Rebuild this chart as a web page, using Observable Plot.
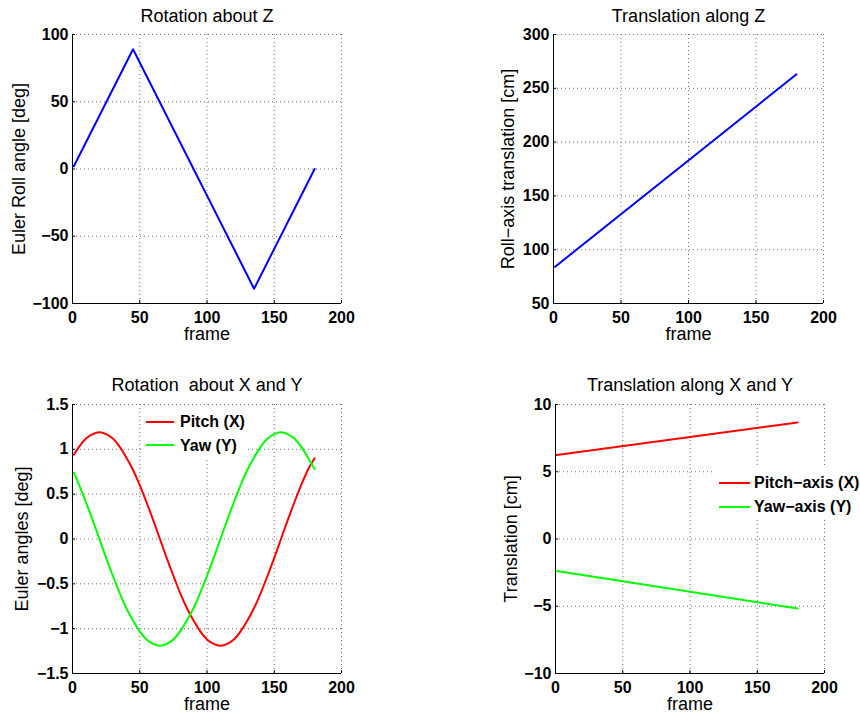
<!DOCTYPE html>
<html>
<head>
<meta charset="utf-8">
<script src="https://cdn.jsdelivr.net/npm/d3@7"></script>
<script src="https://cdn.jsdelivr.net/npm/@observablehq/plot@0.6"></script>
<style>
  html, body { margin: 0; padding: 0; background: #fff; }
  #fig { position: relative; width: 860px; height: 716px; overflow: hidden;
         font-family: "Liberation Sans", Arial, sans-serif; color: #000; }
  #fig > svg { position: absolute; }
  .legend { position: absolute; background: #fff; }
  .legend .sw { position: absolute; height: 2px; }
  .legend .lb { position: absolute; font-weight: bold; font-size: 16px; line-height: 1; white-space: nowrap; }
</style>
</head>
<body>
<div id="fig"></div>
<script>
// Shared frame axis
const frameTicks = [0, 50, 100, 150, 200];

// Rotation about Z (roll)
const rollFrame = [1, 45, 135, 180];
const rollDeg = [2, 89, -89, 0];
const rollTicks = [-100, -50, 0, 50, 100];

// Translation along Z (roll axis)
const zFrame = [1, 180];
const zCm = [84, 263];
const zTicks = [50, 100, 150, 200, 250, 300];

// Rotation about X and Y
const angFrame = [1, 5, 10, 15, 20, 25, 30, 35, 40, 45, 50, 55, 60, 65, 70, 75, 80, 85, 90,
  95, 100, 105, 110, 115, 120, 125, 130, 135, 140, 145, 150, 155, 160, 165, 170, 175, 180];
const pitchDeg = [0.94, 1.03, 1.12, 1.17, 1.19, 1.17, 1.12, 1.03, 0.91, 0.77, 0.60, 0.41, 0.21, 0, -0.21,
  -0.41, -0.60, -0.77, -0.91, -1.03, -1.12, -1.17, -1.19, -1.17, -1.12, -1.03, -0.91, -0.77, -0.60,
  -0.41, -0.21, 0, 0.21, 0.41, 0.60, 0.77, 0.90];
const yawDeg = [0.74, 0.60, 0.41, 0.21, 0, -0.21, -0.41, -0.60, -0.77, -0.91, -1.03, -1.12, -1.17, -1.19,
  -1.17, -1.12, -1.03, -0.91, -0.77, -0.60, -0.41, -0.21, 0, 0.21, 0.41, 0.60, 0.77, 0.91, 1.03, 1.12,
  1.17, 1.19, 1.17, 1.12, 1.03, 0.91, 0.78];
const angTicks = [-1.5, -1, -0.5, 0, 0.5, 1, 1.5];
const angLegend = ["Pitch (X)", "Yaw (Y)"];

// Translation along X and Y
const xyFrame = [1, 180];
const pitchCm = [6.24, 8.66];
const yawCm = [-2.38, -5.17];
const xyTicks = [-10, -5, 0, 5, 10];
const xyLegend = ["Pitch\u2212axis (X)", "Yaw\u2212axis (Y)"];

const fig = document.getElementById("fig");
const fmt = d3.format("");
const blank = () => "";

function panel(o) {
  const W = 430, H = 358;
  const gridStyle = {stroke: "#707070", strokeOpacity: 1, strokeDasharray: "1,3"};
  const marks = [
    Plot.gridX({ticks: frameTicks, ...gridStyle}),
    Plot.gridY({ticks: o.yTicks, ...gridStyle}),
    Plot.ruleX([frameTicks[0]], {stroke: "#000", strokeWidth: 1}),
    Plot.ruleY([o.yTicks[0]], {stroke: "#000", strokeWidth: 1}),
    // short ticks pointing into the plot area
    Plot.axisX({ticks: frameTicks, tickSize: 3, dy: -3, tickFormat: blank, label: null, stroke: "#000"}),
    Plot.axisY({ticks: o.yTicks, tickSize: 3, dx: 3, tickFormat: blank, label: null, stroke: "#000"}),
    // tick labels
    Plot.axisX({ticks: frameTicks, tickSize: 0, tickPadding: 8, tickFormat: fmt, label: null,
      fontSize: 16, fontWeight: "bold", fill: "#000"}),
    Plot.axisY({ticks: o.yTicks, tickSize: 0, tickPadding: 4, tickFormat: fmt, label: null,
      fontSize: 16, fontWeight: "bold", fill: "#000"}),
    ...o.series.map(s => Plot.line(s.x.map((f, i) => ({f, v: s.y[i]})),
      {x: "f", y: "v", stroke: s.color, strokeWidth: 2, curve: s.curve || "linear"})),
    Plot.text([o.title], {text: d => d, frameAnchor: "top", dy: o.titleDy, lineAnchor: "bottom",
      textAnchor: "middle", fontSize: 18, fill: "#000"}),
    Plot.text(["frame"], {text: d => d, frameAnchor: "bottom", dy: 36, lineAnchor: "bottom",
      textAnchor: "middle", fontSize: 18, fill: "#000"}),
    Plot.text([o.yLabel], {text: d => d, frameAnchor: "left", dx: o.yLabelDx, rotate: -90,
      lineAnchor: "bottom", textAnchor: "middle", fontSize: 18, fill: "#000"})
  ];
  const svg = Plot.plot({
    width: W, height: H,
    marginLeft: o.ml, marginRight: o.mr, marginTop: o.mt, marginBottom: o.mb,
    x: {domain: [frameTicks[0], frameTicks[frameTicks.length - 1]]},
    y: {domain: [o.yTicks[0], o.yTicks[o.yTicks.length - 1]]},
    style: {fontFamily: "'Liberation Sans', Arial, sans-serif", background: "transparent", overflow: "visible", color: "#000"},
    marks
  });
  svg.style.left = o.left + "px";
  svg.style.top = o.top + "px";
  fig.appendChild(svg);
}

function legend(box, sw, labelX, labels, colors, rows) {
  const div = document.createElement("div");
  div.className = "legend";
  Object.assign(div.style, {left: box[0] + "px", top: box[1] + "px", width: box[2] + "px", height: box[3] + "px"});
  labels.forEach((label, i) => {
    const line = document.createElement("div");
    line.className = "sw";
    Object.assign(line.style, {left: (sw[0] - box[0]) + "px", width: sw[1] + "px",
      top: (rows[i][0] - 1 - box[1]) + "px", background: colors[i]});
    const t = document.createElement("div");
    t.className = "lb";
    t.textContent = label;
    Object.assign(t.style, {left: (labelX - box[0]) + "px", top: (rows[i][1] - box[1]) + "px"});
    div.appendChild(line);
    div.appendChild(t);
  });
  fig.appendChild(div);
}

panel({left: 0, top: 0, ml: 72, mr: 89, mt: 34, mb: 55, yTicks: rollTicks,
  title: "Rotation about Z", titleDy: -13, yLabel: "Euler Roll angle [deg]", yLabelDx: -48,
  series: [{x: rollFrame, y: rollDeg, color: "#0000ff"}]});

panel({left: 430, top: 0, ml: 123, mr: 37, mt: 34, mb: 55, yTicks: zTicks,
  title: "Translation along Z", titleDy: -13, yLabel: "Roll\u2212axis translation [cm]", yLabelDx: -40,
  series: [{x: zFrame, y: zCm, color: "#0000ff"}]});

panel({left: 0, top: 358, ml: 72, mr: 89, mt: 46, mb: 43, yTicks: angTicks,
  title: "Rotation  about X and Y", titleDy: -14, yLabel: "Euler angles [deg]", yLabelDx: -45,
  series: [
    {x: angFrame, y: pitchDeg, color: "#ff0000", curve: "natural"},
    {x: angFrame, y: yawDeg, color: "#00ff00", curve: "natural"}
  ]});

panel({left: 430, top: 358, ml: 125, mr: 36, mt: 46, mb: 43, yTicks: xyTicks,
  title: "Translation along X and Y", titleDy: -14, yLabel: "Translation [cm]", yLabelDx: -39,
  series: [
    {x: xyFrame, y: pitchCm, color: "#ff0000"},
    {x: xyFrame, y: yawCm, color: "#00ff00"}
  ]});

legend([142, 406, 106, 51], [146, 28], 180, angLegend, ["#ff0000", "#00ff00"], [[422, 414], [445, 438]]);
legend([712, 467, 148, 53], [719, 31], 754, xyLegend, ["#ff0000", "#00ff00"], [[483, 475], [507, 499]]);
</script>
</body>
</html>
